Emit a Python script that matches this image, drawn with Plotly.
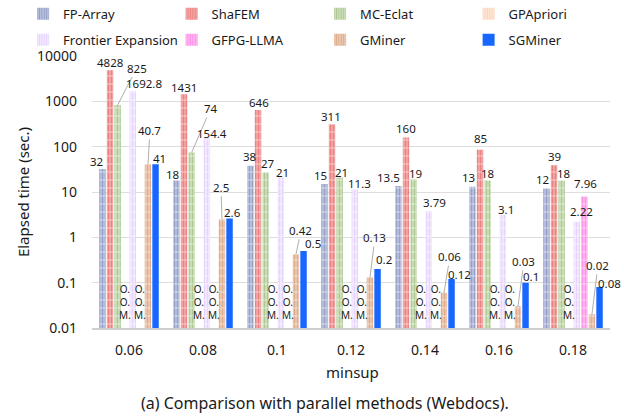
import math
import plotly.graph_objects as go

# ---- data (elapsed time in seconds; None = out of memory) ----
minsup = ["0.06", "0.08", "0.1", "0.12", "0.14", "0.16", "0.18"]
fp_array = [32, 18, 38, 15, 13.5, 13, 12]
shafem = [4828, 1431, 646, 311, 160, 85, 39]
mc_eclat = [825, 74, 27, 21, 19, 18, 18]
gpapriori = [None, None, None, None, None, None, None]
frontier_expansion = [1692.8, 154.4, 21, 11.3, 3.79, 3.1, 2.22]
gfpg_llma = [None, None, None, None, None, None, 7.96]
gminer = [40.7, 2.5, 0.42, 0.13, 0.06, 0.03, 0.02]
sgminer = [41, 2.6, 0.5, 0.2, 0.12, 0.1, 0.08]

series_names = ["FP-Array", "ShaFEM", "MC-Eclat", "GPApriori",
                "Frontier Expansion", "GFPG-LLMA", "GMiner", "SGMiner"]
series_values = [fp_array, shafem, mc_eclat, gpapriori,
                 frontier_expansion, gfpg_llma, gminer, sgminer]

# ---- styling ----
FONT = "Noto Sans"
TEXT = "#1a1a1a"
# (background colour, stripe colour) per series; None stripe = solid fill
fills = [("#b9c3de", "#6f80b0"), ("#f3a6a6", "#df5f5f"), ("#cde0ba", "#8fb070"),
         ("#fde6d6", "#f6c3a2"), ("#f3e8ff", "#d9bfff"), ("#ffb6f0", "#fb6fdd"),
         ("#ecc9b0", "#c98f6c"), ("#1766ff", None)]

# label offsets in px: (dx, dy, leader line?)
label_offsets = [
    [(-5.5, -8, 0), (-3.5, -6, 0), (-0.5, -9, 0), (-3.5, -9, 0), (-9.5, -9, 0), (-3.5, -9, 0), (-3.5, -9, 0)],
    [(0, -8, 0), (0, -7, 0), (1, -7, 0), (-1, -8, 0), (0, -9, 0), (0, -11, 0), (0, -9, 0)],
    [(19, -37, 1), (19, -44, 1), (2, -9, 0), (2, -5, 0), (2, -6, 0), (0, -7, 0), (2, -7, 0)],
    [None] * 7,
    [(11, -7, 0), (5, -5, 0), (2, -5, 0), (5, -6, 0), (6, -9, 0), (3, -6, 0), (5, -10, 0)],
    [None] * 6 + [(1.5, -13, 0)],
    [(2, -34, 1), (-1, -32, 1), (5, -24, 1), (5, -40, 1), (6, -36, 1), (6, -45, 1), (6, -49, 1)],
    [(4, -6, 0), (3, -6.5, 0), (9, -7, 0), (6, -10, 0), (8, -5, 0), (5, -6, 0), (10, -4, 0)],
]

BARGAP = 0.18
NSER = len(series_names)
xpos = list(range(len(minsup)))

fig = go.Figure()
for i, (name, vals) in enumerate(zip(series_names, series_values)):
    bg, fg = fills[i]
    legend = "legend" if i < 4 else "legend2"
    if fg is None:
        marker = dict(color=bg, line=dict(width=0))
    else:
        marker = dict(color=bg, line=dict(width=0),
                      pattern=dict(shape="|", fgcolor=fg, bgcolor=bg,
                                   size=3, solidity=0.45))
    fig.add_trace(go.Bar(x=xpos, y=vals, name=name, marker=marker,
                         offsetgroup=str(i), legend=legend, hoverinfo="skip"))
    if fg is not None:
        # thin horizontal white rules over the striped bars
        fig.add_trace(go.Bar(x=xpos, y=vals, name=name, showlegend=False,
                             offsetgroup=str(i), hoverinfo="skip",
                             marker=dict(color="rgba(0,0,0,0)", line=dict(width=0),
                                         pattern=dict(shape="-", fgcolor="white",
                                                      bgcolor="rgba(0,0,0,0)",
                                                      size=8, solidity=0.13,
                                                      fillmode="overlay"))))


def slot_x(g, s):
    return g + (-0.5 + (s + 0.5) / NSER) * (1 - BARGAP)


annotations = []
for s, vals in enumerate(series_values):
    for g, v in enumerate(vals):
        x = slot_x(g, s)
        if v is None:
            annotations.append(dict(x=x, y=-2, xref="x", yref="y", text="O.<br>O.<br>M.",
                                    showarrow=False, yanchor="bottom", yshift=4,
                                    font=dict(family=FONT, size=10, color=TEXT)))
            continue
        dx, dy, leader = label_offsets[s][g]
        txt = f"{v:g}"
        if leader:
            annotations.append(dict(x=x, y=math.log10(v), xref="x", yref="y", text=txt,
                                    showarrow=True, arrowhead=0, arrowwidth=0.8,
                                    arrowcolor="#9a9a9a", standoff=0, ax=dx, ay=dy,
                                    font=dict(family=FONT, size=11.5, color=TEXT)))
        else:
            annotations.append(dict(x=x, y=math.log10(v), xref="x", yref="y", text=txt,
                                    showarrow=False, xshift=dx, yshift=-dy,
                                    yanchor="middle",
                                    font=dict(family=FONT, size=11.5, color=TEXT)))

annotations += [
    dict(text="Elapsed time (sec.)", x=-0.133, y=0.5, xref="paper", yref="paper",
         xanchor="center", yanchor="middle",
         textangle=-90, showarrow=False, font=dict(family=FONT, size=15, color=TEXT)),
    dict(text="minsup", x=0.502, y=-0.162, xref="paper", yref="paper",
         xanchor="center", yanchor="middle",
         showarrow=False, font=dict(family=FONT, size=15, color=TEXT)),
    dict(text="(a) Comparison with parallel methods (Webdocs).", x=0.45, y=-0.276,
         xref="paper", yref="paper", xanchor="center", yanchor="middle", showarrow=False,
         font=dict(family=FONT, size=16, color=TEXT)),
]

ytick_vals = [0.01, 0.1, 1, 10, 100, 1000, 10000]
ytick_text = ["0.01", "0.1", "1", "10", "100", "1000", "10000"]

legend_common = dict(orientation="h", xanchor="left", yanchor="middle",
                     entrywidth=103.5, entrywidthmode="pixels",
                     font=dict(family=FONT, size=13, color=TEXT),
                     bgcolor="rgba(0,0,0,0)", borderwidth=0, itemwidth=30)

fig.update_layout(
    width=624, height=419,
    margin=dict(l=92, r=14, t=56, b=91, autoexpand=False),
    paper_bgcolor="white", plot_bgcolor="white",
    barmode="group", bargap=BARGAP, bargroupgap=0.15,
    font=dict(family=FONT, color=TEXT),
    xaxis=dict(range=[-0.5, 6.5], tickvals=xpos, ticktext=minsup, ticks="",
               showgrid=False, showline=True, linecolor="#cfcfcf", linewidth=1.5,
               tickfont=dict(family=FONT, size=14, color=TEXT), ticklabelstandoff=8,
               zeroline=False),
    yaxis=dict(type="log", range=[-2, 4], tickvals=ytick_vals, ticktext=ytick_text,
               ticks="", showgrid=True, gridcolor="#dedede", gridwidth=1,
               showline=False, zeroline=False, ticklabelstandoff=14,
               tickfont=dict(family=FONT, size=14, color=TEXT)),
    legend=dict(x=-0.133, y=1.155, **legend_common),
    legend2=dict(x=-0.133, y=1.060, **legend_common),
    annotations=annotations,
    showlegend=True,
)

fig.write_html("out.html")
